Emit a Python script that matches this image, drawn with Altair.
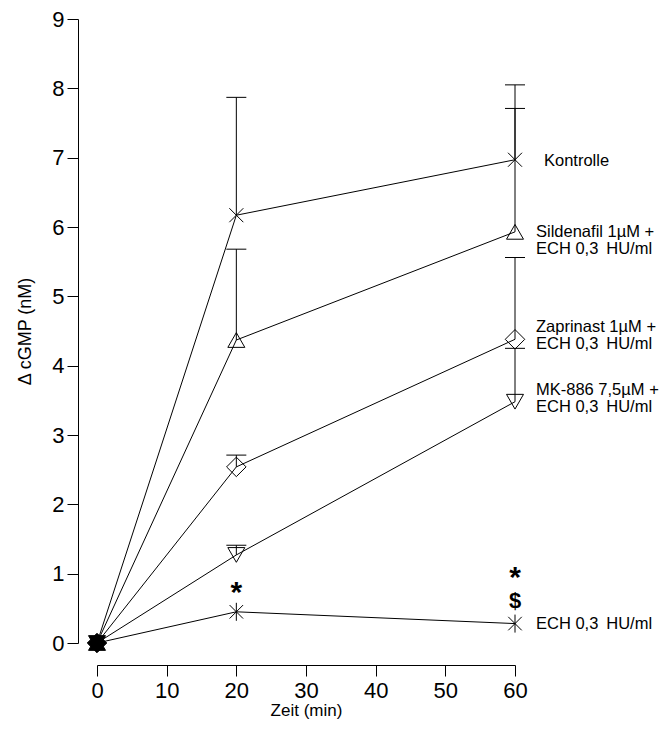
import altair as alt
import pandas as pd

# ---- data ----
time = [0, 20, 60]
series = ["Kontrolle", "Sildenafil", "Zaprinast", "MK-886", "ECH"]
kontrolle = [0.0, 6.17, 6.97]
sildenafil = [0.0, 4.37, 5.93]
zaprinast = [0.0, 2.54, 4.38]
mk886 = [0.0, 1.27, 3.48]
ech = [0.0, 0.45, 0.28]
# upper ends of the error bars (equal to the mean where no bar is drawn)
kontrolle_upper = [0.0, 7.87, 8.05]
sildenafil_upper = [0.0, 5.68, 7.71]
zaprinast_upper = [0.0, 2.71, 5.56]
mk886_upper = [0.0, 1.41, 4.25]
ech_upper = [0.0, 0.45, 0.28]

label_lines = {
    "Kontrolle": ["Kontrolle"],
    "Sildenafil": ["Sildenafil 1\u00b5M +", "ECH 0,3\u2009 HU/ml"],
    "Zaprinast": ["Zaprinast 1\u00b5M +", "ECH 0,3\u2009 HU/ml"],
    "MK-886": ["MK-886 7,5\u00b5M +", "ECH 0,3\u2009 HU/ml"],
    "ECH": ["ECH 0,3\u2009 HU/ml"],
}

ann_time = [20, 60, 60]
ann_text = ["*", "*", "$"]
ann_value = [0.83, 1.05, 0.62]

x_ticks = [0, 5, 10, 15, 20, 25, 30, 35, 40, 45, 50, 55, 60]
y_ticks = [0, 0.5, 1, 1.5, 2, 2.5, 3, 3.5, 4, 4.5, 5, 5.5, 6, 6.5, 7, 7.5, 8, 8.5, 9]

# ---- tables ----
means = [kontrolle, sildenafil, zaprinast, mk886, ech]
uppers = [kontrolle_upper, sildenafil_upper, zaprinast_upper, mk886_upper, ech_upper]
rows = []
for name, vals, ups in zip(series, means, uppers):
    for t, v, u in zip(time, vals, ups):
        rows.append({"series": name, "time": t, "value": v, "upper": u})
df = pd.DataFrame(rows)
err_df = df[df["upper"] > df["value"]]

lab_rows = []
for name, vals in zip(series, means):
    lab_rows.append({"series": name, "time": time[-1], "value": vals[-1],
                     "text": label_lines[name]})
lab_df = pd.DataFrame(lab_rows)

ann_df = pd.DataFrame({"time": ann_time, "text": ann_text, "value": ann_value})

FONT = "Liberation Sans"
W, H = 418, 624

xs = alt.Scale(domain=[0, 60], nice=False, zero=False)
ys = alt.Scale(domain=[0, 9], nice=False)

x_enc = alt.X(
    "time:Q", scale=xs, title="Zeit (min)",
    axis=alt.Axis(
        values=x_ticks, offset=22, domain=True, domainColor="black", domainWidth=1,
        tickColor="black", tickWidth=1, format="d",
        tickSize={"condition": {"test": "datum.value % 10 === 0", "value": 11}, "value": 6},
        labelExpr="datum.value % 10 === 0 ? datum.label : ''",
        labelFont=FONT, labelFontSize=22, labelColor="black", labelPadding=4,
        labelFlush=False, labelOverlap=False,
        titleFont=FONT, titleFontSize=17, titleFontWeight="normal", titleColor="black",
        titlePadding=1, grid=False,
    ),
)
y_enc = alt.Y(
    "value:Q", scale=ys, title="\u0394 cGMP (nM)",
    axis=alt.Axis(
        values=y_ticks, offset=19, domainColor="black", domainWidth=1,
        tickColor="black", tickWidth=1, format="d",
        tickSize={"condition": {"test": "datum.value % 1 === 0", "value": 11}, "value": 6},
        labelExpr="datum.value % 1 === 0 ? datum.label : ''",
        labelFont=FONT, labelFontSize=22, labelColor="black", labelPadding=3,
        labelFlush=False, labelOverlap=False,
        titleFont=FONT, titleFontSize=18, titleFontWeight="normal", titleColor="black",
        titlePadding=17, grid=False,
    ),
)

base = alt.Chart(df)

lines = base.mark_line(color="black", strokeWidth=1).encode(
    x=x_enc, y=y_enc, detail="series:N"
)

err_rule = alt.Chart(err_df).mark_rule(color="black", strokeWidth=1).encode(
    x="time:Q", y="value:Q", y2="upper:Q"
)
err_cap = alt.Chart(err_df).mark_rule(color="black", strokeWidth=1, xOffset=-10, x2Offset=10).encode(
    x="time:Q", x2="time:Q", y="upper:Q"
)

X_PATH = "M-1,-1L1,1M-1,1L1,-1"
STAR_PATH = "M0,-1L0,1M-0.75,-0.75L0.75,0.75M-0.75,0.75L0.75,-0.75"
shapes = {"Kontrolle": (X_PATH, 196), "Sildenafil": ("triangle-up", 289),
          "Zaprinast": ("diamond", 380), "MK-886": ("triangle-down", 289),
          "ECH": (STAR_PATH, 324)}

point_layers = []
for name in series:
    shp, sz = shapes[name]
    point_layers.append(
        alt.Chart(df[df["series"] == name]).mark_point(
            shape=shp, size=sz, filled=False, color="black", strokeWidth=1, opacity=1
        ).encode(
            x="time:Q", y="value:Q",
            fill=alt.condition("datum.time === 0", alt.value("black"), alt.value("transparent")),
        )
    )

label_dx = {"Kontrolle": 29, "Sildenafil": 21, "Zaprinast": 21, "MK-886": 21, "ECH": 21}
label_dy = {"Kontrolle": 1, "Sildenafil": 0, "Zaprinast": -12, "MK-886": -12, "ECH": 0}
label_layers = []
for name in series:
    label_layers.append(
        alt.Chart(lab_df[lab_df["series"] == name]).mark_text(
            align="left", baseline="middle", dx=label_dx[name], dy=label_dy[name],
            font=FONT, fontSize=16.5, color="black", lineHeight=17
        ).encode(x="time:Q", y="value:Q", text="text")
    )

ann_star = alt.Chart(ann_df[ann_df["text"] == "*"]).mark_text(
    align="center", baseline="middle", dy=8, font=FONT, fontSize=30, fontWeight="bold", color="black"
).encode(x="time:Q", y="value:Q", text="text:N")
ann_dollar = alt.Chart(ann_df[ann_df["text"] == "$"]).mark_text(
    align="center", baseline="middle", dy=1, font=FONT, fontSize=22, fontWeight="bold", color="black"
).encode(x="time:Q", y="value:Q", text="text:N")

chart = alt.layer(
    lines, err_rule, err_cap, *point_layers, *label_layers, ann_star, ann_dollar
).properties(
    width=W, height=H,
    autosize=alt.AutoSizeParams(type="none"),
    padding={"left": 89, "top": 11, "right": 145, "bottom": 78},
    background="white",
).configure_view(stroke=None)

chart.save("out.html", embed_options={"renderer": "svg", "actions": False})
